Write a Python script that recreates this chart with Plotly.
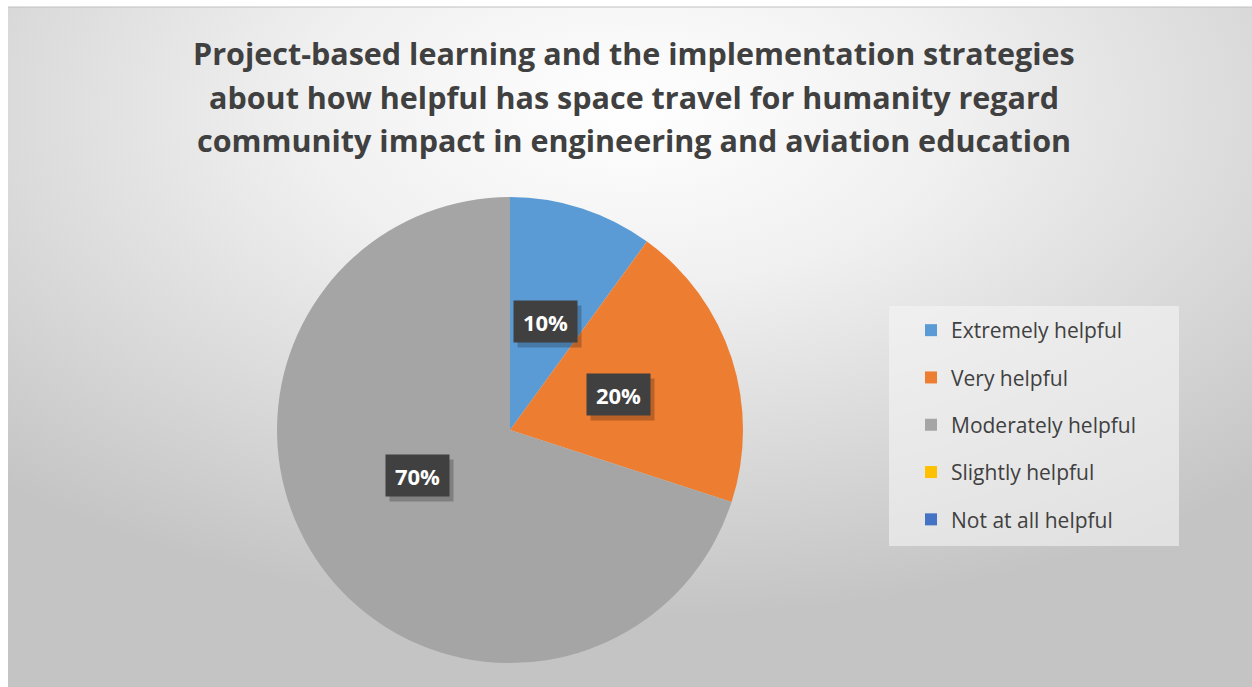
import base64
import math
import plotly.graph_objects as go

# ---------------- data ----------------
categories = ["Extremely helpful", "Very helpful", "Moderately helpful",
              "Slightly helpful", "Not at all helpful"]
values = [10, 20, 70, 0, 0]
colors = ["#5B9BD5", "#ED7D31", "#A5A5A5", "#FFC000", "#4472C4"]
title_lines = ["Project-based learning and the implementation strategies",
               "about how helpful has space travel for humanity regard",
               "community impact in engineering and aviation education"]

W, H = 1252, 687
# pie geometry in pixels
cx, cy, R = 510, 430, 233

fig = go.Figure()

# background gradient (chart area)
svg = f'''<svg xmlns="http://www.w3.org/2000/svg" width="1244" height="680" viewBox="0 0 1244 680" preserveAspectRatio="none">
<defs><radialGradient id="g" cx="0.5" cy="0.15" r="0.75" gradientUnits="objectBoundingBox">
<stop offset="0" stop-color="#ffffff"/><stop offset="0.35" stop-color="#f0f0f0"/><stop offset="1" stop-color="#c4c4c4"/></radialGradient></defs>
<rect width="1244" height="680" fill="url(#g)"/></svg>'''
src = "data:image/svg+xml;base64," + base64.b64encode(svg.encode()).decode()
fig.add_layout_image(dict(source=src, xref="paper", yref="paper",
                          x=8 / W, y=1 - 7 / H, sizex=(W - 8) / W, sizey=(H - 7) / H,
                          xanchor="left", yanchor="top", sizing="stretch", layer="below"))

fig.add_trace(go.Pie(
    labels=categories, values=values, sort=False, direction="clockwise",
    rotation=0, marker=dict(colors=colors, line=dict(width=0)),
    textinfo="none", hoverinfo="label+percent", showlegend=False,
    domain=dict(x=[(cx - R) / W, (cx + R) / W], y=[1 - (cy + R) / H, 1 - (cy - R) / H]),
))

# legend entries
for name, col in zip(categories, colors):
    fig.add_trace(go.Scatter(x=[None], y=[None], mode="markers", name=name,
                             legendgroup=name,
                             marker=dict(symbol="square", size=12, color=col)))

# data labels
total = sum(values)
cum = 0
for v in values:
    if v > 0:
        mid = (cum + v / 2) / total * 2 * math.pi
        px = cx + 0.49 * R * math.sin(mid)
        py = cy - 0.49 * R * math.cos(mid)
        txt = f"{round(v / total * 100)}%"
        fig.add_annotation(x=(px + 4) / W, y=1 - (py + 5) / H, xref="paper", yref="paper",
                           text=" ", showarrow=False, width=61, height=39, borderpad=1,
                           bgcolor="rgba(0,0,0,0.22)")
        fig.add_annotation(x=px / W, y=1 - py / H, xref="paper", yref="paper",
                           text=f"<b>{txt}</b>", showarrow=False, width=61, height=39,
                           borderpad=1, bgcolor="#404040",
                           font=dict(family="Open Sans", size=22, color="white"))
    cum += v

# title lines
for i, line in enumerate(title_lines):
    fig.add_annotation(x=634 / W, y=1 - (53 + 43.5 * i) / H, xref="paper", yref="paper",
                       xanchor="center", yanchor="middle", showarrow=False,
                       text=f"<b>{line}</b>",
                       font=dict(family="Open Sans", size=30.5, color="#404040"))

# legend background box
fig.add_shape(type="rect", xref="paper", yref="paper",
              x0=889 / W, x1=1179 / W, y0=1 - 546 / H, y1=1 - 306 / H,
              fillcolor="rgba(245,245,245,0.6)", line=dict(width=0), layer="below")
# top border of chart area
fig.add_shape(type="line", xref="paper", yref="paper", x0=8 / W, x1=1, y0=1 - 7 / H, y1=1 - 7 / H,
              line=dict(color="#c0c0c0", width=1))

fig.update_layout(
    width=W, height=H, autosize=False,
    margin=dict(l=0, r=0, t=0, b=0),
    paper_bgcolor="white", plot_bgcolor="rgba(0,0,0,0)",
    xaxis=dict(visible=False), yaxis=dict(visible=False),
    legend=dict(x=911 / W, y=1 - 310 / H, xanchor="left", yanchor="top",
                bgcolor="rgba(0,0,0,0)", tracegroupgap=17,
                font=dict(family="Open Sans", size=21, color="#404040"),
                itemsizing="trace"),
    showlegend=True,
)

fig.write_html("out.html")
